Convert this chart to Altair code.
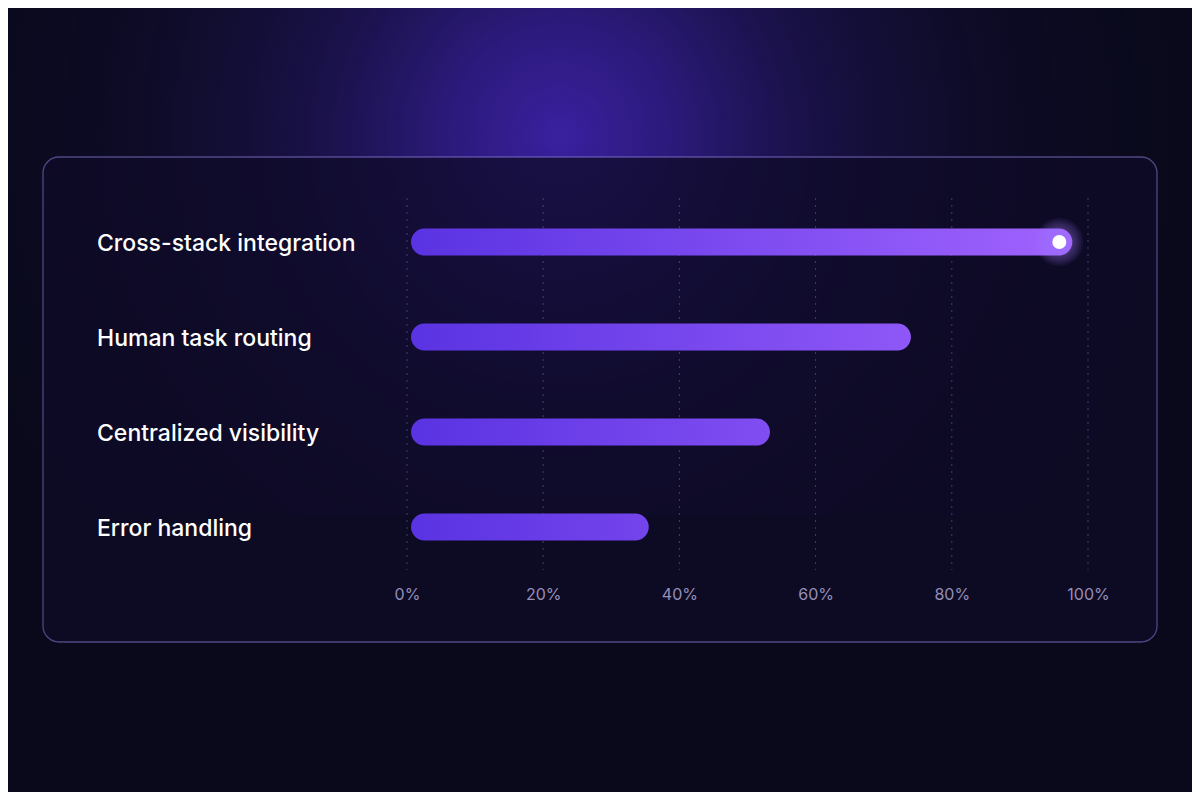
import altair as alt
import pandas as pd

categories = ["Cross-stack integration", "Human task routing", "Centralized visibility", "Error handling"]
values = [97.7, 74.0, 53.3, 35.5]
ticks = [0, 20, 40, 60, 80, 100]

df = pd.DataFrame({"cat": categories, "val": values})
tick_df = pd.DataFrame({"t": ticks})
one = pd.DataFrame({"k": [0]})

FONT = "Inter"
W, H = 681, 380
# plot origin on screen = (407, 194.5)

def mix(a, b, f):
    return "#%02x%02x%02x" % tuple(int(round(a[i] + (b[i] - a[i]) * f)) for i in range(3))

C0 = (90, 51, 226)
C1 = (162, 100, 255)

x_scale = alt.Scale(domain=[0, 100], nice=False, zero=True)
y_scale = alt.Scale(domain=categories, paddingInner=0, paddingOuter=0)

# background glow
glow = alt.Chart(one).mark_rect(
    color=alt.RadialGradient(
        gradient="radial",
        stops=[
            alt.GradientStop(color="rgba(58,32,160,1)", offset=0),
            alt.GradientStop(color="rgba(50,29,140,0.85)", offset=0.18),
            alt.GradientStop(color="rgba(38,24,108,0.55)", offset=0.4),
            alt.GradientStop(color="rgba(26,18,70,0.25)", offset=0.7),
            alt.GradientStop(color="rgba(20,15,55,0)", offset=1),
        ],
        x1=0.5, y1=0.5, r1=0, x2=0.5, y2=0.5, r2=0.5,
    )
).encode(
    x=alt.value(560 - 407 - 620), x2=alt.value(560 - 407 + 620),
    y=alt.value(135 - 194.5 - 380), y2=alt.value(135 - 194.5 + 380),
)

panel = alt.Chart(one).mark_rect(
    cornerRadius=16,
    fill="rgba(15,11,40,0.75)",
    stroke="rgba(150,130,230,0.5)",
    strokeWidth=1.3,
).encode(
    x=alt.value(43 - 407), x2=alt.value(1157 - 407),
    y=alt.value(157 - 194.5), y2=alt.value(642 - 194.5),
)

grid = alt.Chart(tick_df).mark_rule(
    color="rgba(130,120,200,0.45)", strokeDash=[2, 5], strokeWidth=1
).encode(
    x=alt.X("t:Q", scale=x_scale,
            axis=alt.Axis(values=ticks, labelExpr="datum.value + '%'", title=None,
                          domain=False, ticks=False, grid=False, labelPadding=12,
                          labelFlush=False, labelOverlap=False,
                          labelFont=FONT, labelFontSize=16, labelColor="#958fb8",
                          zindex=1)),
    y=alt.value(3.5), y2=alt.value(375.5),
)

bar_layers = []
for c, v in zip(categories, values):
    end_col = mix(C0, C1, v / 100.0)
    b = alt.Chart(df).transform_filter(alt.datum.cat == c).mark_bar(
        size=27, cornerRadius=13.5,
        color=alt.LinearGradient(
            gradient="linear",
            stops=[alt.GradientStop(color=mix(C0, C1, 0), offset=0),
                   alt.GradientStop(color=end_col, offset=1)],
            x1=0, x2=1, y1=0, y2=0,
        ),
    ).encode(
        x=alt.X("val:Q", scale=x_scale, stack=None),
        x2=alt.value(4),
        y=alt.Y("cat:N", scale=y_scale, axis=None, sort=categories),
    )
    bar_layers.append(b)

top = df[df["cat"] == categories[0]]

def ring(d, op, col):
    return alt.Chart(top).mark_point(
        shape="circle", size=d * d, filled=True, color=col, opacity=op,
        strokeWidth=0, xOffset=-13,
    ).encode(
        x=alt.X("val:Q", scale=x_scale),
        y=alt.Y("cat:N", scale=y_scale, axis=None, sort=categories),
    )

halos = [ring(d, 0.07, "#a57aff") for d in (48, 44, 40, 36, 32, 28, 24, 20)]
dot = ring(14, 1.0, "#ffffff")

labels = alt.Chart(df).mark_text(
    align="left", baseline="middle", font=FONT, fontSize=23, fontWeight=500,
    color="#ffffff", dy=1.5
).encode(
    x=alt.value(97 - 407),
    y=alt.Y("cat:N", scale=y_scale, axis=None, sort=categories),
    text="cat:N",
)

chart = alt.layer(glow, panel, grid, *bar_layers, *halos, dot, labels).properties(
    width=W, height=H,
    autosize=alt.AutoSizeParams(type="none"),
    padding={"left": 399, "top": 186.5, "right": 1184 - 399 - W, "bottom": 784 - 186.5 - H},
    background="#09091b",
).configure_view(stroke=None)

chart.save("out.html", embed_options={"renderer": "svg", "actions": False})
